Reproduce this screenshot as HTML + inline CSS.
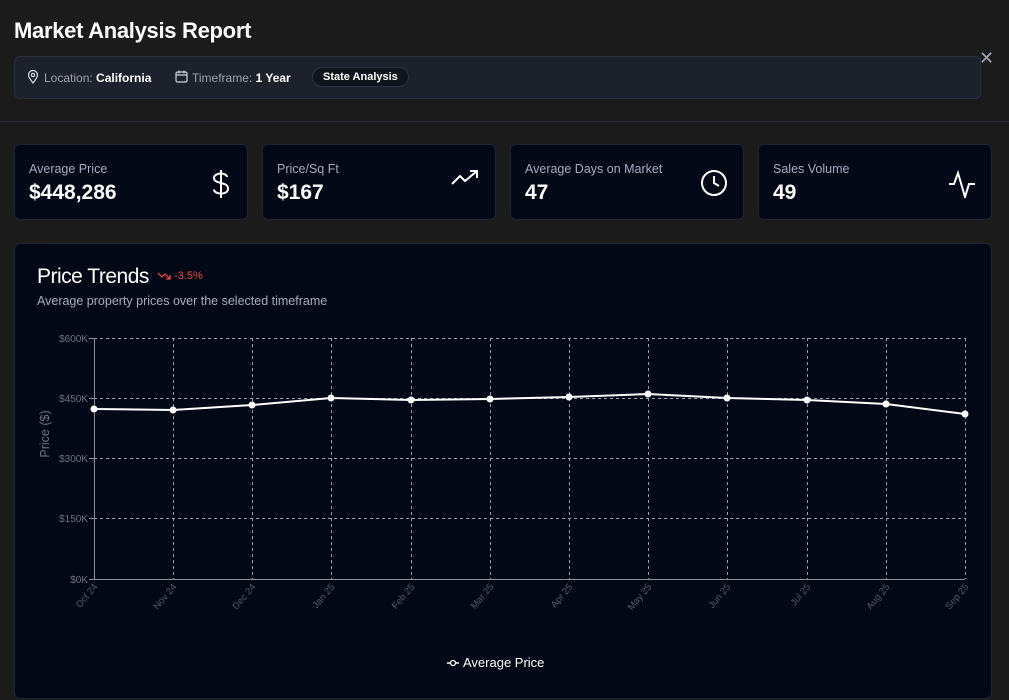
<!DOCTYPE html>
<html><head><meta charset="utf-8"><style>
*{margin:0;padding:0;box-sizing:border-box}
body{width:1009px;height:700px;background:#1b1b1c;font-family:"Liberation Sans",sans-serif;color:#fff;position:relative;overflow:hidden}
.abs{position:absolute}
h1{position:absolute;left:14px;top:18px;font-size:22px;font-weight:bold;letter-spacing:-0.3px}
.bar{position:absolute;left:14px;top:56px;width:967px;height:43px;background:#1c212b;border:1px solid #283040;border-radius:6px;font-size:12px;color:#9ca3af}
.bar b{color:#fff}
.hr{position:absolute;left:0;top:121px;width:1009px;height:1px;background:#2c2f36}
.card{position:absolute;top:144px;width:234px;height:76px;background:#030816;border:1px solid #1e2535;border-radius:6px}
.card .l{position:absolute;left:14px;top:17px;font-size:12.5px;color:#a3aec2}
.card .v{position:absolute;left:14px;top:36px;font-size:21px;font-weight:bold}
.card svg{position:absolute;right:16px;top:24px}
.chart{position:absolute;left:14px;top:243px;width:978px;height:456px;background:#030816;border:1px solid #1e2535;border-radius:6px}
</style></head><body>
<h1>Market Analysis Report</h1>
<div class="abs" style="left:979px;top:48px;color:#9ca3af;font-size:18px">✕</div>
<div class="bar">
<svg class="abs" style="left:12px;top:13px" width="12" height="14" viewBox="0 0 12 14" fill="none" stroke="#cbd5e1" stroke-width="1.3"><path d="M6 13C2 8 1.5 6.5 1.5 5a4.5 4.5 0 0 1 9 0c0 1.5-.5 3-4.5 8z"/><circle cx="6" cy="5" r="1.6"/></svg>
<div class="abs" style="left:29px;top:14px">Location: <b>California</b></div>
<svg class="abs" style="left:160px;top:13px" width="13" height="13" viewBox="0 0 13 13" fill="none" stroke="#cbd5e1" stroke-width="1.2"><rect x="1" y="2" width="11" height="10" rx="1.5"/><path d="M1 5h11M4 0.5v3M9 0.5v3"/></svg>
<div class="abs" style="left:177px;top:14px">Timeframe: <b>1 Year</b></div>
<div class="abs" style="left:297px;top:10px;height:20px;padding:0 10px;border:1px solid #2a3242;border-radius:10px;background:#0f141d;color:#fff;font-size:11px;font-weight:bold;line-height:18px">State Analysis</div>
</div>
<div class="hr"></div>
<div class="card" style="left:14px"><div class="l">Average Price</div><div class="v">$448,286</div>
<svg width="20" height="30" viewBox="0 0 20 30" fill="none" stroke="#fff" stroke-width="2"><path d="M10 1v28M16 8c0-2-3-3.5-6-3.5S3 6 3 9s3 4 7 5 7 2 7 5.5-3 5-7 5-7-1.5-7-4"/></svg></div>
<div class="card" style="left:262px"><div class="l">Price/Sq Ft</div><div class="v">$167</div>
<svg width="28" height="18" viewBox="0 0 28 18" fill="none" stroke="#fff" stroke-width="2"><path d="M1 15l8-8 5 5 12-10M19 2h7v7"/></svg></div>
<div class="card" style="left:510px"><div class="l">Average Days on Market</div><div class="v">47</div>
<svg width="28" height="28" viewBox="0 0 28 28" fill="none" stroke="#fff" stroke-width="2" style="top:24px;right:15px"><circle cx="14" cy="14" r="12"/><path d="M14 7v7l5 3"/></svg></div>
<div class="card" style="left:758px"><div class="l">Sales Volume</div><div class="v">49</div>
<svg width="28" height="28" viewBox="0 0 28 28" fill="none" stroke="#fff" stroke-width="2" style="top:25px;right:15px"><path d="M1 14h5l4-11 7 24 4-13h6"/></svg></div>
<div class="chart">
<div class="abs" style="left:22px;top:21px;font-size:21px;letter-spacing:-0.5px">Price Trends</div>
<svg class="abs" style="left:142px;top:27px" width="14" height="10" viewBox="0 0 14 10" fill="none" stroke="#ef4444" stroke-width="1.3"><path d="M1 2l4 4 3-3 5 5M9 8h4V4"/></svg>
<div class="abs" style="left:159px;top:26px;font-size:11px;color:#ef4444">-3.5%</div>
<div class="abs" style="left:22px;top:50px;font-size:12.5px;color:#a3aec2">Average property prices over the selected timeframe</div>
</div>
<svg class="abs" style="left:0;top:0" width="1009" height="700">
<g stroke="#9ca0a8" stroke-width="1" stroke-dasharray="3 3" fill="none">
<path d="M94 338.5H965M94 398.5H965M94 458.5H965M94 518.5H965"/>
<path d="M173.5 338V579M252.5 338V579M331.5 338V579M411.5 338V579M490.5 338V579M569.5 338V579M648.5 338V579M727.5 338V579M807.5 338V579M886.5 338V579M965.5 338V579"/>
</g>
<path d="M94.5 338V579.5H965" stroke="#8b8f96" fill="none"/>
<g stroke="#8b8f96"><path d="M89 338.5h5M89 398.5h5M89 458.5h5M89 518.5h5M89 579.5h5"/></g>
<g font-size="10" fill="#6b7280" text-anchor="end" font-family="Liberation Sans">
<text x="88" y="342">$600K</text><text x="88" y="402">$450K</text><text x="88" y="462">$300K</text><text x="88" y="522">$150K</text><text x="88" y="583">$0K</text>
</g>
<text transform="translate(49,434) rotate(-90)" font-size="12.5" fill="#6b7280" text-anchor="middle" font-family="Liberation Sans">Price ($)</text>
<g font-size="9.5" fill="#555b66" text-anchor="end" font-family="Liberation Sans">
<text transform="translate(98,587) rotate(-50)">Oct 24</text>
<text transform="translate(177,587) rotate(-50)">Nov 24</text>
<text transform="translate(256,587) rotate(-50)">Dec 24</text>
<text transform="translate(335,587) rotate(-50)">Jan 25</text>
<text transform="translate(415,587) rotate(-50)">Feb 25</text>
<text transform="translate(494,587) rotate(-50)">Mar 25</text>
<text transform="translate(573,587) rotate(-50)">Apr 25</text>
<text transform="translate(652,587) rotate(-50)">May 25</text>
<text transform="translate(731,587) rotate(-50)">Jun 25</text>
<text transform="translate(811,587) rotate(-50)">Jul 25</text>
<text transform="translate(890,587) rotate(-50)">Aug 25</text>
<text transform="translate(969,587) rotate(-50)">Sep 25</text>
</g>
<polyline fill="none" stroke="#fff" stroke-width="2" points="94,409 173,410 252,405 331,398 411,400 490,399 569,397 648,394 727,398 807,400 886,404 965,414"/>
<g fill="#fff"><circle cx="94" cy="409" r="3.5"/><circle cx="173" cy="410" r="3.5"/><circle cx="252" cy="405" r="3.5"/><circle cx="331" cy="398" r="3.5"/><circle cx="411" cy="400" r="3.5"/><circle cx="490" cy="399" r="3.5"/><circle cx="569" cy="397" r="3.5"/><circle cx="648" cy="394" r="3.5"/><circle cx="727" cy="398" r="3.5"/><circle cx="807" cy="400" r="3.5"/><circle cx="886" cy="404" r="3.5"/><circle cx="965" cy="414" r="3.5"/></g>
<path d="M447 663h12" stroke="#fff" stroke-width="1.5"/><circle cx="453" cy="663" r="2.5" fill="#030816" stroke="#fff" stroke-width="1.3"/>
<text x="463" y="667" font-size="13" fill="#fff" font-family="Liberation Sans">Average Price</text>
</svg>
</body></html>
